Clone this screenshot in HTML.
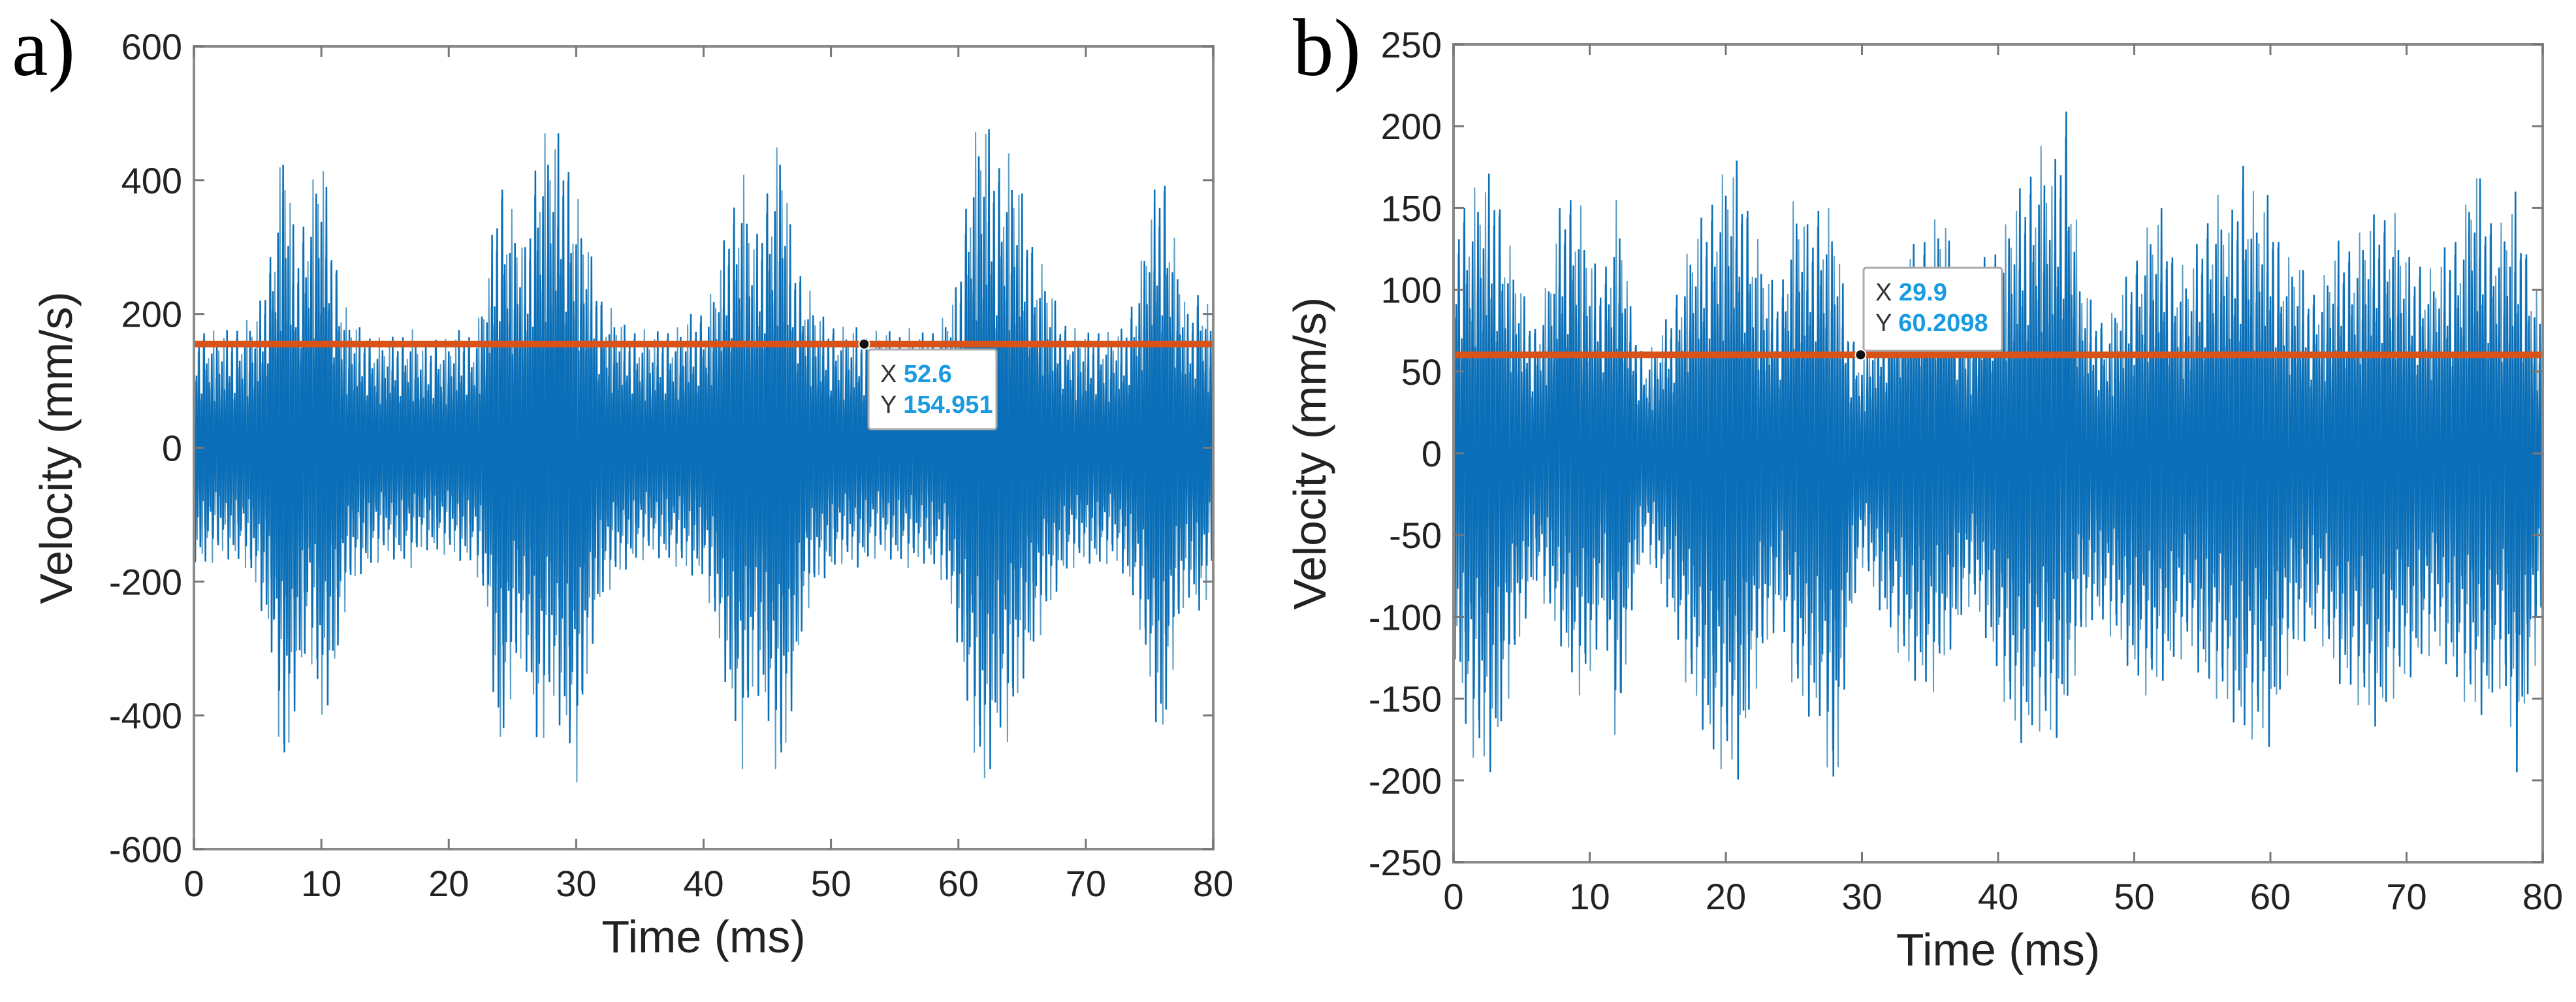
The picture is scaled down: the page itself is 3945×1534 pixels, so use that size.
<!DOCTYPE html>
<html><head><meta charset="utf-8">
<style>
html,body{margin:0;padding:0;background:#fff;}
svg{display:block;font-family:"Liberation Sans",Arial,sans-serif;}
</style></head>
<body>
<svg id="fig" width="3945" height="1534" viewBox="0 0 3945 1534"></svg>
<script>
// ---- data ----
const timeMs = Array.from({length:81},(_, i)=>i);
const aUpper = [180,180,170,180,190,200,300,470,300,380,450,300,200,180,170,160,170,180,150,170,160,180,170,250,420,350,300,470,470,470,380,300,230,200,180,180,170,180,180,200,210,250,350,420,300,400,470,300,250,200,190,180,180,170,180,170,180,170,180,200,250,460,500,440,440,380,300,250,200,180,170,180,170,180,250,350,440,300,200,250,180];
const aLower = [-170,-180,-160,-170,-180,-220,-300,-520,-380,-300,-420,-350,-220,-190,-180,-160,-170,-180,-150,-160,-160,-170,-180,-250,-480,-350,-320,-470,-380,-430,-500,-320,-230,-200,-180,-170,-160,-170,-180,-190,-200,-280,-380,-480,-350,-420,-520,-380,-250,-200,-190,-170,-180,-170,-160,-170,-180,-170,-180,-210,-300,-440,-520,-440,-440,-350,-300,-250,-200,-180,-170,-180,-170,-190,-250,-360,-460,-300,-220,-260,-180];
const bUpper = [150,160,165,175,130,100,80,110,160,165,120,110,160,90,60,70,90,120,140,160,175,180,140,110,100,160,140,160,140,80,60,80,100,120,130,140,150,100,90,120,130,150,170,190,170,220,110,90,80,100,120,140,150,120,110,140,160,140,185,150,160,120,120,100,110,130,130,140,150,150,120,120,110,130,140,180,150,140,160,120,80];
const bLower = [-120,-180,-195,-195,-150,-110,-80,-100,-120,-150,-140,-100,-190,-100,-60,-80,-100,-140,-160,-190,-195,-200,-150,-120,-100,-150,-160,-170,-225,-110,-70,-90,-110,-130,-140,-150,-130,-110,-90,-110,-140,-170,-180,-170,-180,-160,-120,-100,-110,-120,-140,-150,-140,-130,-120,-140,-150,-160,-175,-175,-180,-140,-120,-110,-120,-140,-150,-160,-170,-150,-140,-130,-120,-130,-150,-160,-160,-140,-200,-150,-100];
const xTicks = [0,10,20,30,40,50,60,70,80];
const aYTicks = [-600,-400,-200,0,200,400,600];
const bYTicks = [-250,-200,-150,-100,-50,0,50,100,150,200,250];
const aThreshold = 154.951, aTipX = 52.6;
const bThreshold = 60.2098, bTipX = 29.9;

const NS="http://www.w3.org/2000/svg";
const svg=document.getElementById('fig');
function mk(tag,attrs,parent){const e=document.createElementNS(NS,tag);for(const k in attrs)e.setAttribute(k,attrs[k]);(parent||svg).appendChild(e);return e;}
const pattern=[1,0.6,0.85,0.45,0.95,0.7,0.55,0.8,0.4,0.9,0.65,0.75,0.5];

function panel(cfg){
  const g=mk('g',{});
  
  
  const X=v=>cfg.L+(v-0)/80*(cfg.R-cfg.L);
  const Y=v=>cfg.B-(v-cfg.ymin)/(cfg.ymax-cfg.ymin)*(cfg.B-cfg.T);
  const n=cfg.up.length, sub=10;
  let pts=[], ptsLight=[];
  for(let i=0;i<n-1;i++){
    for(let k=0;k<sub;k++){
      const j=i*sub+k;
      const t=timeMs[i]+k/sub;
      const f=k/sub;
      const u=cfg.up[i]*(1-f)+cfg.up[i+1]*f;
      const l=cfg.lo[i]*(1-f)+cfg.lo[i+1]*f;
      const p=pattern[Math.floor(j/2)%pattern.length];
      const v=(j%2===0)?u*p:l*p;
      pts.push(X(t).toFixed(1)+','+Y(v).toFixed(1));
      const p2=pattern[(Math.floor(j/2)+6)%pattern.length];
      const v2=(j%2===0)?l*p2:u*p2;
      ptsLight.push(X(t+0.05).toFixed(1)+','+Y(v2).toFixed(1));
    }
  }
  const s1=mk('polyline',{points:ptsLight.join(' '),fill:'none',stroke:'#5a9cc4','stroke-width':2},g);
  
  
  const s=mk('polyline',{points:pts.join(' '),fill:'none',stroke:'#0a6fb8','stroke-width':2.5},g);
  
  
  const th=mk('line',{x1:cfg.L,x2:cfg.R,y1:Y(cfg.th),y2:Y(cfg.th),stroke:'#D95319','stroke-width':10},g);
  
  
  const box=mk('rect',{x:cfg.L,y:cfg.T,width:cfg.R-cfg.L,height:cfg.B-cfg.T,fill:'none',stroke:'#8a8a8a','stroke-width':4},g);
  
  
  xTicks.forEach(v=>{
    const x=X(v);
    mk('line',{x1:x,x2:x,y1:cfg.B,y2:cfg.B-16,stroke:'#777','stroke-width':3},g);
    mk('line',{x1:x,x2:x,y1:cfg.T,y2:cfg.T+16,stroke:'#777','stroke-width':3},g);
    const t=mk('text',{x:x,y:cfg.B+72,'font-size':56,'text-anchor':'middle',fill:'#222'},g);
    t.textContent=v;
    
    
  });
  cfg.yt.forEach(v=>{
    const y=Y(v);
    mk('line',{x1:cfg.L,x2:cfg.L+16,y1:y,y2:y,stroke:'#777','stroke-width':3},g);
    mk('line',{x1:cfg.R,x2:cfg.R-16,y1:y,y2:y,stroke:'#777','stroke-width':3},g);
    const t=mk('text',{x:cfg.L-18,y:y+20,'font-size':56,'text-anchor':'end',fill:'#222'},g);
    t.textContent=v;
    
    
  });
  const xt=mk('text',{x:(cfg.L+cfg.R)/2,y:cfg.B+158,'font-size':70,'text-anchor':'middle',fill:'#222'},g);
  xt.textContent='Time (ms)';
  
  
  const yx=cfg.ytx, yy=(cfg.T+cfg.B)/2;
  const yt=mk('text',{x:yx,y:yy,'font-size':70,'text-anchor':'middle',fill:'#222',transform:`rotate(-90 ${yx} ${yy})`},g);
  yt.textContent='Velocity (mm/s)';
  
  
  const pl=mk('text',{x:cfg.lx,y:cfg.ly,'font-size':125,fill:'#000','font-family':'"Liberation Serif",serif'},g);
  pl.textContent=cfg.label;
  
  
  const mx=X(cfg.tipX), my=Y(cfg.th);
  const tg=mk('g',{},g);
  
  
  const bx=cfg.box;
  mk('rect',{x:bx[0],y:bx[1],width:bx[2],height:bx[3],fill:'#fff',stroke:'#aaa','stroke-width':3,rx:4},tg);
  const t1=mk('text',{x:bx[0]+18,y:bx[1]+50,'font-size':38,fill:'#333'},tg);
  t1.innerHTML='X <tspan fill="#1a9be0" font-weight="bold">'+cfg.tipX+'</tspan>';
  const t2=mk('text',{x:bx[0]+18,y:bx[1]+97,'font-size':38,fill:'#333'},tg);
  t2.innerHTML='Y <tspan fill="#1a9be0" font-weight="bold">'+cfg.th+'</tspan>';
  mk('circle',{cx:mx,cy:my,r:8,fill:'#111',stroke:'#fff','stroke-width':2},tg);
}

panel({name:'panel-a',L:297,R:1858,T:71,B:1300,ymin:-600,ymax:600,up:aUpper,lo:aLower,yt:aYTicks,
  th:aThreshold,tipX:aTipX,ytx:110,lx:18,ly:115,label:'a)',box:[1330,535,196,122]});
panel({name:'panel-b',L:2226,R:3894,T:68,B:1320,ymin:-250,ymax:250,up:bUpper,lo:bLower,yt:bYTicks,
  th:bThreshold,tipX:bTipX,ytx:2030,lx:1980,ly:115,label:'b)',box:[2854,410,212,127]});
</script>
</body></html>
